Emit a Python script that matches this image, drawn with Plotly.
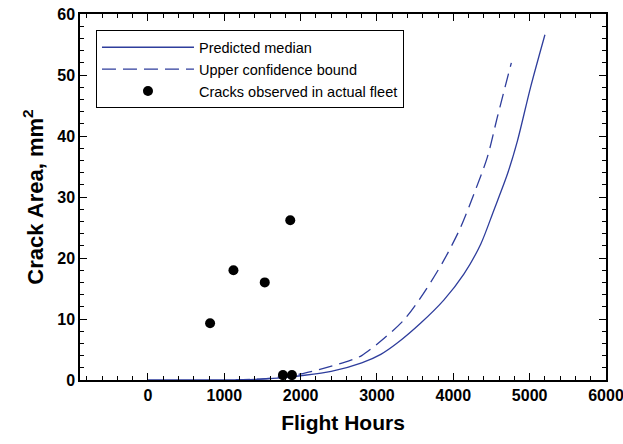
import plotly.graph_objects as go

# Predicted median curve
median_x = [0, 1000, 1400, 1700, 2000, 2400, 2800, 3050, 3270, 3570, 3875, 4140, 4360, 4530, 4710, 4840, 5010, 5200]
median_y = [0, 0.02, 0.1, 0.3, 0.7, 1.4, 2.8, 4.2, 6.1, 9.3, 13.1, 17.4, 22.3, 27.8, 33.8, 39.2, 47.9, 56.6]

# Upper confidence bound curve
upper_x = [1150, 1500, 1800, 2000, 2300, 2650, 2800, 3090, 3350, 3610, 3875, 4095, 4270, 4445, 4575, 4760]
upper_y = [0, 0.2, 0.6, 1.0, 1.9, 3.2, 4.0, 6.8, 9.8, 14.2, 19.6, 25.0, 30.5, 36.5, 43.0, 52.0]

# Cracks observed in actual fleet
obs_x = [814, 1120, 1530, 1864, 1768, 1886]
obs_y = [9.3, 18.0, 16.0, 26.2, 0.8, 0.8]

x_ticks = [0, 1000, 2000, 3000, 4000, 5000, 6000]
y_ticks = [0, 10, 20, 30, 40, 50, 60]
x_minor_step = 200
y_minor_step = 2
x_range = [-890, 6000]
y_range = [0, 60]

blue = "#2e3d9c"
font_family = "Liberation Sans, Arial, sans-serif"

fig = go.Figure()
fig.add_trace(go.Scatter(x=median_x, y=median_y, mode="lines", name="Predicted median",
                         line=dict(color=blue, width=1.3, shape="spline", smoothing=0.8)))
fig.add_trace(go.Scatter(x=upper_x, y=upper_y, mode="lines", name="Upper confidence bound",
                         line=dict(color=blue, width=1.3, dash="14px,7px", shape="spline", smoothing=0.8)))
fig.add_trace(go.Scatter(x=obs_x, y=obs_y, mode="markers", name="Cracks observed in actual fleet",
                         marker=dict(color="black", size=10)))

tick_font = dict(family=font_family, size=16, color="black", weight="bold")

fig.update_layout(
    width=623, height=444,
    margin=dict(l=80, r=17, t=14, b=64),
    paper_bgcolor="white", plot_bgcolor="rgba(0,0,0,0)",
    showlegend=True,
    xaxis=dict(range=x_range, tickmode="array", tickvals=x_ticks,
               ticktext=[str(v) for v in x_ticks], ticklabeloverflow="allow",
               ticks="inside", ticklen=7, tickwidth=1.4, tickcolor="black", layer="above traces",
               showline=True, linecolor="black", linewidth=1.5, mirror="allticks",
               showgrid=False, zeroline=False, automargin=False, tickfont=tick_font,
               title=dict(text="Flight Hours", standoff=12,
                          font=dict(family=font_family, size=21, color="black", weight="bold"))),
    yaxis=dict(range=y_range, tickmode="array", tickvals=y_ticks,
               ticktext=[str(v) for v in y_ticks], ticklabeloverflow="allow",
               ticks="inside", ticklen=7, tickwidth=1.4, tickcolor="black", layer="above traces",
               showline=True, linecolor="black", linewidth=1.5, mirror="allticks",
               showgrid=False, zeroline=False, automargin=False, tickfont=tick_font,
               title=dict(text="Crack Area, mm<sup>2</sup>", standoff=8,
                          font=dict(family=font_family, size=22, color="black", weight="bold"))),
    # minor tick marks on separate overlaid axes
    xaxis2=dict(range=x_range, overlaying="x", side="bottom", anchor="y",
                tickmode="linear", tick0=0, dtick=x_minor_step, showticklabels=False,
                ticks="inside", ticklen=4, tickwidth=1.1, tickcolor="black",
                mirror="allticks", showline=False,
                showgrid=False, zeroline=False, automargin=False),
    yaxis2=dict(range=y_range, overlaying="y", side="left", anchor="x",
                tickmode="linear", tick0=0, dtick=y_minor_step, showticklabels=False,
                ticks="inside", ticklen=4, tickwidth=1.1, tickcolor="black",
                mirror="allticks", showline=False,
                showgrid=False, zeroline=False, automargin=False),
    legend=dict(x=0.03, y=0.956, xanchor="left", yanchor="top",
                bgcolor="white", bordercolor="black", borderwidth=1.2,
                font=dict(family=font_family, size=14.5, color="black"),
                itemwidth=92, tracegroupgap=0),
)

# invisible trace to activate the minor-tick axes
fig.add_trace(go.Scatter(x=[x_range[0]], y=[y_range[0]], xaxis="x2", yaxis="y2",
                         mode="markers", marker=dict(opacity=0), showlegend=False,
                         hoverinfo="skip"))

fig.write_html("out.html")
